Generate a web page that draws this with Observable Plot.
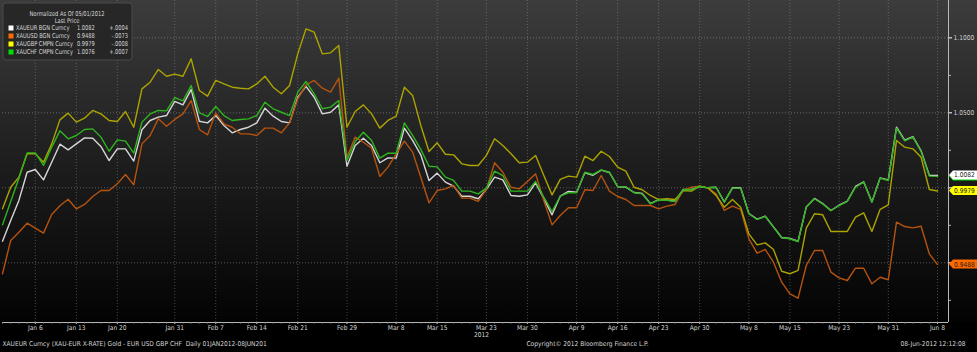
<!DOCTYPE html>
<html><head><meta charset="utf-8">
<script src="https://cdn.jsdelivr.net/npm/d3@7"></script>
<script src="https://cdn.jsdelivr.net/npm/@observablehq/plot@0.6"></script>
<style>
html,body{margin:0;padding:0;background:#000;}
#chart{width:977px;height:352px;background:linear-gradient(to bottom,#3c3c3c 0px,#1c1c1c 170px,#030303 322px,#000 322px,#000 352px);}
#chart svg{display:block}
</style></head><body><div id="chart"></div>
<script>
const FONT = "'Liberation Sans Narrow','DejaVu Sans Condensed','Liberation Sans',Arial,sans-serif";

const seriesNames = ["XAUEUR BGN Curncy","XAUUSD BGN Curncy","XAUGBP CMPN Curncy","XAUCHF CMPN Curncy"];
const lineColors = ["#d6d6d6","#b5530f","#aca400","#2eb51e"];
const swatchColors = ["#ffffff","#ff6a00","#ffff00","#00e000"];
const lastPrice = [1.0082, 0.9488, 0.9979, 1.0076];
const netChange = ["+.0004","-.0073","-.0008","+.0007"];
const legendTitle = "Normalized As Of 05/01/2012";
const legendSub = "Last Price";

const eur = [0.9644,0.9782,0.9916,1.0104,1.0122,1.0053,1.0171,1.0291,1.0253,1.0293,1.0333,1.0331,1.0276,1.0182,1.0260,1.0260,1.0178,1.0387,1.0449,1.0471,1.0482,1.0576,1.0553,1.0656,
1.0444,1.0433,1.0482,1.0416,1.0367,1.0389,1.0404,1.0433,1.0531,1.0478,1.0442,1.0433,1.0604,1.0676,1.0604,1.0493,1.0504,1.0553,1.0144,1.0282,1.0331,1.0282,1.0167,
1.0200,1.0198,1.0398,1.0316,1.0220,1.0049,1.0098,1.0038,1.0011,0.9944,0.9944,0.9927,0.9989,1.0071,1.0053,0.9949,0.9944,0.9953,1.0033,0.9927,0.9820,0.9944,0.9976,
0.9971,1.0100,1.0084,1.0118,1.0102,1.0007,1.0005,0.9969,0.9962,0.9895,0.9922,0.9918,0.9911,0.9989,0.9989,1.0009,1.0000,1.0004,0.9906,1.0000,1.0000,0.9829,0.9791,0.9811,
0.9740,0.9669,0.9662,0.9644,0.9873,0.9929,0.9895,0.9849,0.9884,0.9911,1.0009,1.0040,0.9906,1.0066,1.0053,1.0404,1.0318,1.0342,1.0247,1.0084,1.0082];
const usd = [0.9427,0.9649,0.9704,0.9764,0.9731,0.9698,0.9822,0.9880,0.9924,0.9860,0.9889,0.9942,0.9982,0.9982,1.0027,1.0089,1.0020,1.0293,1.0349,1.0460,1.0411,1.0456,1.0493,1.0582,
1.0389,1.0353,1.0500,1.0427,1.0404,1.0360,1.0360,1.0349,1.0398,1.0398,1.0367,1.0433,1.0593,1.0687,1.0716,1.0664,1.0638,1.0731,1.0204,1.0338,1.0304,1.0264,1.0076,
1.0138,1.0227,1.0311,1.0238,1.0071,0.9900,0.9982,0.9993,1.0016,0.9931,0.9931,0.9909,0.9989,1.0167,1.0104,1.0004,0.9993,1.0042,1.0093,0.9916,0.9753,0.9816,0.9867,
0.9867,0.9987,0.9982,1.0082,0.9978,0.9942,0.9922,0.9882,0.9882,0.9882,0.9860,0.9878,0.9889,0.9982,1.0004,1.0011,1.0000,0.9960,0.9849,0.9878,0.9856,0.9660,0.9564,0.9589,
0.9504,0.9371,0.9293,0.9264,0.9482,0.9582,0.9582,0.9438,0.9400,0.9382,0.9464,0.9464,0.9360,0.9404,0.9387,0.9771,0.9742,0.9733,0.9744,0.9560,0.9488];
const gbp = [0.9860,1.0004,1.0071,1.0227,1.0227,1.0171,1.0293,1.0453,1.0498,1.0438,1.0464,1.0516,1.0493,1.0449,1.0442,1.0509,1.0404,1.0660,1.0704,1.0789,1.0744,1.0758,1.0744,1.0860,
1.0649,1.0611,1.0716,1.0693,1.0671,1.0664,1.0660,1.0693,1.0744,1.0671,1.0627,1.0682,1.0893,1.1060,1.1038,1.0893,1.0900,1.0949,1.0404,1.0509,1.0553,1.0493,1.0398,
1.0449,1.0478,1.0671,1.0616,1.0416,1.0242,1.0300,1.0224,1.0220,1.0160,1.0149,1.0149,1.0216,1.0327,1.0282,1.0227,1.0167,1.0171,1.0216,1.0082,0.9953,1.0056,1.0078,
1.0071,1.0211,1.0182,1.0244,1.0209,1.0138,1.0111,1.0004,0.9987,0.9949,0.9922,0.9927,0.9922,0.9982,0.9978,1.0011,1.0000,0.9949,0.9871,0.9922,0.9871,0.9693,0.9620,0.9633,
0.9589,0.9444,0.9427,0.9449,0.9731,0.9827,0.9820,0.9709,0.9709,0.9709,0.9804,0.9833,0.9709,0.9856,0.9887,1.0316,1.0271,1.0260,1.0204,0.9989,0.9979];
const chf = [0.9753,0.9909,1.0064,1.0233,1.0233,1.0149,1.0271,1.0380,1.0327,1.0349,1.0389,1.0393,1.0338,1.0244,1.0320,1.0311,1.0231,1.0438,1.0493,1.0516,1.0513,1.0602,1.0580,1.0682,
1.0500,1.0476,1.0542,1.0482,1.0449,1.0456,1.0460,1.0482,1.0571,1.0527,1.0504,1.0482,1.0638,1.0709,1.0627,1.0527,1.0538,1.0582,1.0182,1.0309,1.0371,1.0316,1.0198,
1.0231,1.0231,1.0433,1.0349,1.0256,1.0144,1.0140,1.0071,1.0049,0.9978,0.9978,0.9960,0.9998,1.0111,1.0082,0.9978,0.9978,0.9978,1.0042,0.9938,0.9842,0.9944,0.9967,
0.9967,1.0104,1.0089,1.0120,1.0104,1.0009,1.0007,0.9967,0.9960,0.9893,0.9920,0.9916,0.9909,0.9987,0.9987,1.0009,1.0000,1.0004,0.9904,0.9998,0.9998,0.9827,0.9789,0.9809,
0.9738,0.9667,0.9660,0.9642,0.9871,0.9927,0.9893,0.9847,0.9882,0.9909,1.0004,1.0038,0.9904,1.0064,1.0049,1.0398,1.0313,1.0338,1.0242,1.0078,1.0076];

const tickLabels = ["Jan 6","Jan 13","Jan 20","Jan 31","Feb 7","Feb 14","Feb 21","Feb 29","Mar 8","Mar 15","Mar 23","Mar 30","Apr 9","Apr 16","Apr 23","Apr 30","May 8","May 15","May 23","May 31","Jun 8"];
const yMajor = [0.95, 1.0, 1.05, 1.1];
const yLabeled = [1.05, 1.1];
const yMinor = [0.925, 0.975, 1.025, 1.075];
const yearLabel = "2012";
const footerLeft = "XAUEUR Curncy (XAU-EUR X-RATE) Gold - EUR USD GBP CHF  Daily 01JAN2012-08JUN201";
const footerCenter = "Copyright\u00A9 2012 Bloomberg Finance L.P.";
const footerRight = "08-Jun-2012 12:12:08";

// weekday calendar (x axis categories)
const dates = d3.timeDays(new Date(2012,0,2), new Date(2012,5,9)).filter(d => d.getDay() !== 0 && d.getDay() !== 6);
const fmt = d3.timeFormat("%b %-d");
const tickIdx = tickLabels.map(l => dates.findIndex(d => fmt(d) === l));

const allValues = [eur, usd, gbp, chf];
const data = [];
seriesNames.forEach((s, k) => allValues[k].forEach((v, i) => data.push({s, i, v})));

const xMax = 115.34;
const yDomain = [0.9102, 1.1249];

const plot = Plot.plot({
  width: 977, height: 352,
  marginLeft: 2, marginRight: 29, marginTop: 0, marginBottom: 30,
  style: {background: "transparent", color: "#d4d4d4", fontFamily: FONT, fontSize: "6.6px", overflow: "visible"},
  x: {domain: [0, xMax]},
  y: {domain: yDomain},
  color: {domain: seriesNames, range: lineColors},
  marks: [
    Plot.gridY(yMajor, {stroke: "#9a9a9a", strokeOpacity: 0.55, strokeDasharray: "1,2"}),
    Plot.gridX(tickIdx, {stroke: "#9a9a9a", strokeOpacity: 0.45, strokeDasharray: "1,2"}),
    Plot.line(data, {x: "i", y: "v", z: "s", stroke: "s", strokeWidth: 1.4}),
    Plot.ruleX([xMax], {stroke: "#b8b8b8"}),
    Plot.ruleY([yDomain[0]], {stroke: "#b8b8b8"}),
    Plot.axisY({anchor: "right", ticks: yLabeled, tickFormat: d3.format(".4f"), tickSize: 3, tickPadding: 2, stroke: "#fff", label: null}),
    Plot.axisY({anchor: "right", ticks: yMajor.filter(v => !yLabeled.includes(v)), tickFormat: () => "", tickSize: 3, stroke: "#fff", label: null}),
    Plot.axisY({anchor: "right", ticks: yMinor, tickFormat: () => "", tickSize: 2, stroke: "#bbb", label: null}),
    Plot.axisX({anchor: "bottom", ticks: tickIdx, tickFormat: i => fmt(dates[Math.round(i)]), tickSize: 2, tickPadding: 0.5, stroke: "#bbb", label: null}),
    Plot.axisX({anchor: "bottom", ticks: d3.range(dates.length), tickFormat: () => "", tickSize: 1.5, stroke: "#999", label: null}),
    Plot.text([yearLabel], {text: d => d, frameAnchor: "bottom", dx: 6, dy: 14.5, fill: "#d4d4d4"}),
    Plot.text([footerLeft], {text: d => d, frameAnchor: "bottom-left", textAnchor: "start", dx: 0, dy: 23, fill: "#d4d4d4"}),
    Plot.text([footerCenter], {text: d => d, frameAnchor: "bottom", dx: 112, dy: 23, fill: "#d4d4d4"}),
    Plot.text([footerRight], {text: d => d, frameAnchor: "bottom-right", textAnchor: "end", dx: 17, dy: 23, fill: "#d4d4d4"})
  ]
});
document.getElementById("chart").appendChild(plot);

const svg = d3.select(plot);
const ys = plot.scale("y");
const xs = plot.scale("x");
const axisX = xs.apply(xMax);

// value tags on right axis (green underneath white)
const tagOrder = [3, 1, 2, 0];
const tags = svg.append("g").attr("font-family", FONT).attr("font-size", 6.6).attr("text-anchor", "start");
tagOrder.forEach(k => {
  const y = ys.apply(lastPrice[k]);
  const x0 = axisX + 1;
  tags.append("path")
    .attr("d", `M${x0},${y} L${x0 + 4},${y - 4.5} L${x0 + 28},${y - 4.5} L${x0 + 28},${y + 4.5} L${x0 + 4},${y + 4.5} Z`)
    .attr("fill", swatchColors[k]);
  tags.append("text").attr("x", x0 + 5).attr("y", y + 2.4).attr("fill", "#1a1a1a").text(lastPrice[k].toFixed(4));
});

// legend box (narrow text emulated with horizontal squeeze)
const lg = svg.append("g").attr("font-family", FONT).attr("font-size", 6.6).attr("fill", "#d8d8d8").attr("text-anchor", "start");
lg.append("rect").attr("x", 3).attr("y", 3).attr("width", 129).attr("height", 57).attr("rx", 3)
  .attr("fill", "#262626").attr("fill-opacity", 0.95).attr("stroke", "#4a4a4a");
const sq = (x, y, anchor, txt) => lg.append("text")
  .attr("transform", `translate(${x},${y}) scale(0.86,1)`).attr("text-anchor", anchor).text(txt);
sq(67, 15.5, "middle", legendTitle);
sq(67, 22.5, "middle", legendSub);
seriesNames.forEach((s, k) => {
  const cy = 28 + k * 8;
  lg.append("rect").attr("x", 8.5).attr("y", cy - 2.5).attr("width", 5).attr("height", 5).attr("fill", swatchColors[k]);
  sq(16, cy + 2.4, "start", s);
  sq(77, cy + 2.4, "start", lastPrice[k].toFixed(4));
  sq(128, cy + 2.4, "end", netChange[k]);
});
</script></body></html>
